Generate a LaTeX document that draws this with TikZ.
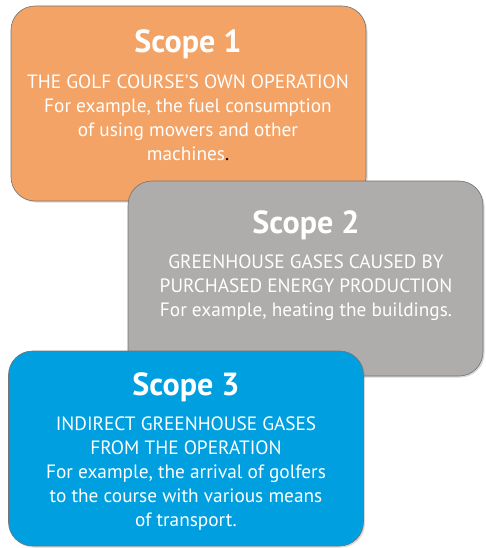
\documentclass[tikz,border=0pt]{standalone}
\usepackage{fontspec}
\setmainfont{PT Sans}
\usepackage{tikz}
\usetikzlibrary{positioning,shadows}
\definecolor{scopeorange}{HTML}{F3A366}
\definecolor{scopegrey}{HTML}{AFACAC}
\definecolor{scopeblue}{HTML}{009FE0}

\begin{document}
\begin{tikzpicture}[x=1pt,y=-1pt,
		scopebox/.style={draw=black!55,line width=0.6pt,rounded corners=24pt,minimum width=355pt,minimum height=195pt,inner sep=0pt,
			drop shadow={shadow xshift=1.5pt,shadow yshift=-1.5pt,opacity=0.3}},
		scopetitle/.style={text=white,font=\fontsize{32}{38}\selectfont\bfseries,anchor=base,inner sep=0pt},
		scopetext/.style={text=white,font=\fontsize{19.3}{24}\selectfont,align=center,inner sep=0pt}]
				\useasboundingbox (0,0) rectangle (485,548);
				\node[scopebox,fill=scopeorange] (s_1) at (188.5,103.5) {};
				\node[scopetitle] (t_1) at (188,53) {Scope 1};
				\node[scopetext] [below=22pt of t_1.base] (b_1) {THE GOLF COURSE'S OWN OPERATION\\For example, the fuel consumption\\of using mowers and other\\machines\textcolor{black}{.}};
				\node[scopebox,fill=scopegrey] (s_2) at (305.5,278.5) {};
				\node[scopetitle] (t_2) at (306,233) {Scope 2};
				\node[scopetext] [below=22pt of t_2.base] (b_2) {GREENHOUSE GASES CAUSED BY\\PURCHASED ENERGY PRODUCTION\\For example, heating the buildings.};
				\node[scopebox,fill=scopeblue] (s_3) at (186,448.5) {};
				\node[scopetitle] (t_3) at (186,395) {Scope 3};
				\node[scopetext] [below=22pt of t_3.base] (b_3) {INDIRECT GREENHOUSE GASES\\FROM THE OPERATION\\For example, the arrival of golfers\\to the course with various means\\of transport.};
			\end{tikzpicture}
\end{document}
